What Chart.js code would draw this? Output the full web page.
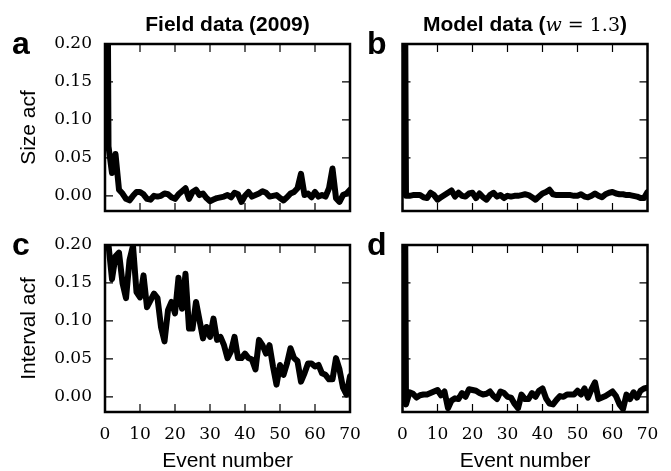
<!DOCTYPE html>
<html><head><meta charset="utf-8">
<script src="https://cdn.jsdelivr.net/npm/chart.js@4.4.0/dist/chart.umd.min.js"></script>
<style>
html,body{margin:0;padding:0;background:#fff;}
#wrap{position:relative;width:671px;height:471px;overflow:hidden;background:#fff;}
canvas{position:absolute;left:0;top:0;}
.lbl{position:absolute;font-family:"Liberation Sans",Arial,sans-serif;color:#000;white-space:nowrap;line-height:1;}
.letter{font-weight:bold;font-size:32px;}
.title{font-weight:bold;font-size:21px;text-align:center;}
.math{font-family:"DejaVu Serif",serif;font-weight:normal;font-size:19px;}
</style></head><body>
<div id="wrap">
<canvas id="ca" width="671" height="471"></canvas>
<canvas id="cb" width="671" height="471"></canvas>
<canvas id="cc" width="671" height="471"></canvas>
<canvas id="cd" width="671" height="471"></canvas>
<div class="lbl letter" style="left:12px;top:27px;">a</div>
<div class="lbl letter" style="left:367px;top:27px;">b</div>
<div class="lbl letter" style="left:12px;top:228px;">c</div>
<div class="lbl letter" style="left:367px;top:228px;">d</div>
<div class="lbl title" style="left:105px;width:245px;top:13px;">Field data (2009)</div>
<div class="lbl title" style="left:402px;width:246px;top:13px;">Model data (<span class="math"><i>w</i> = 1.3</span>)</div>
</div>
<script>
// ---- data ----
const lags = [0,1,2,3,4,5,6,7,8,9,10,11,12,13,14,15,16,17,18,19,20,21,22,23,24,25,26,27,28,29,30,31,32,33,34,35,36,37,38,39,40,41,42,43,44,45,46,47,48,49,50,51,52,53,54,55,56,57,58,59,60,61,62,63,64,65,66,67,68,69,70];
const fieldSizeAcf = [1.0,0.065,0.03,0.055,0.008,0.003,-0.004,-0.006,0.0,0.005,0.005,0.002,-0.004,-0.005,0.0,-0.001,0.0,0.003,0.002,-0.002,-0.004,0.002,0.006,0.010,-0.004,0.005,0.008,0.001,0.003,-0.003,-0.007,-0.005,-0.003,-0.002,-0.001,0.001,-0.002,0.004,0.002,-0.008,0.0,0.005,-0.001,0.001,0.003,0.006,0.004,-0.001,0.0,0.001,-0.003,-0.006,-0.002,0.003,0.005,0.010,0.029,0.001,0.003,-0.002,0.005,-0.001,0.001,-0.001,0.010,0.036,-0.003,-0.008,0.001,0.003,0.008];
const modelSizeAcf = [1.0,0.0,0.0,0.001,0.001,0.001,-0.002,-0.003,0.004,0.001,-0.005,-0.002,0.001,0.004,0.007,-0.001,0.004,0.0,-0.001,0.003,0.004,-0.003,0.003,-0.002,-0.005,0.001,0.004,-0.001,0.001,-0.003,0.0,-0.001,0.0,0.0,0.001,0.002,0.001,-0.002,-0.005,-0.001,0.003,0.005,0.008,0.002,0.001,0.001,0.001,0.001,0.001,0.0,0.0,0.002,-0.001,-0.002,0.0,0.003,0.0,-0.002,0.002,0.004,0.005,0.003,0.002,0.002,0.001,0.001,0.0,-0.001,-0.003,-0.003,0.005];
const fieldIntervalAcf = [1.0,0.20,0.155,0.185,0.190,0.150,0.130,0.180,0.199,0.138,0.131,0.160,0.118,0.127,0.136,0.130,0.092,0.073,0.114,0.125,0.110,0.157,0.116,0.162,0.090,0.090,0.125,0.101,0.077,0.092,0.079,0.103,0.075,0.079,0.068,0.051,0.060,0.079,0.051,0.051,0.057,0.051,0.049,0.036,0.075,0.068,0.057,0.068,0.040,0.016,0.042,0.029,0.044,0.064,0.051,0.047,0.020,0.031,0.044,0.044,0.040,0.042,0.031,0.029,0.023,0.023,0.051,0.036,0.012,0.003,0.027];
const modelIntervalAcf = [1.0,-0.010,0.006,0.004,-0.001,0.002,0.003,0.003,0.005,0.007,0.009,0.002,0.007,-0.015,-0.005,-0.002,-0.003,0.005,0.0,0.010,0.009,0.008,0.005,0.003,0.004,0.007,0.001,-0.003,0.007,0.005,0.0,-0.001,-0.009,-0.015,0.003,-0.003,-0.003,0.005,0.0,0.008,0.011,-0.002,-0.009,-0.010,-0.004,0.001,0.0,0.003,0.003,0.003,0.008,0.003,0.011,-0.001,0.010,0.019,-0.003,-0.001,0.001,0.004,0.007,0.001,-0.010,-0.016,0.003,-0.003,0.006,-0.001,0.008,0.011,0.012];
const xTicks = [0,10,20,30,40,50,60,70];
const xTickLabels = ['0','10','20','30','40','50','60','70'];
const yTicks = [0,0.05,0.10,0.15,0.20];
const yTickLabels = ['0.00','0.05','0.10','0.15','0.20'];
const yMin = -0.02, yMax = 0.20, xMin = 0, xMax = 70;

const framePlugin = {
  id: 'frame',
  afterDatasetsDraw(chart) {
    const {ctx, chartArea: a, scales: {x, y}} = chart;
    ctx.save();
    ctx.strokeStyle = '#000';
    ctx.lineWidth = 1.2;
    ctx.beginPath();
    xTicks.forEach(v => {
      const px = x.getPixelForValue(v);
      ctx.moveTo(px, a.bottom); ctx.lineTo(px, a.bottom - 8);
      ctx.moveTo(px, a.top); ctx.lineTo(px, a.top + 8);
    });
    yTicks.forEach(v => {
      const py = y.getPixelForValue(v);
      ctx.moveTo(a.left, py); ctx.lineTo(a.left + 8, py);
      ctx.moveTo(a.right, py); ctx.lineTo(a.right - 8, py);
    });
    ctx.stroke();
    ctx.lineWidth = 2.5;
    ctx.strokeRect(a.left, a.top, a.right - a.left, a.bottom - a.top);
    ctx.restore();
  }
};

function makeChart(id, values, o) {
  return new Chart(document.getElementById(id), {
    type: 'line',
    data: {
      datasets: [{
        data: lags.map((lag, i) => ({x: lag, y: values[i]})),
        borderColor: '#000', borderWidth: 6, pointRadius: 0, tension: 0,
        fill: false, clip: 0, borderJoinStyle: 'round', borderCapStyle: 'round'
      }]
    },
    options: {
      responsive: false, animation: false, devicePixelRatio: 1,
      layout: {padding: o.pad},
      plugins: {legend: {display: false}, tooltip: {enabled: false}, title: {display: false}},
      scales: {
        x: {
          type: 'linear', min: xMin, max: xMax,
          grid: {display: false, drawTicks: false}, border: {display: false},
          afterBuildTicks: s => { s.ticks = xTicks.map(v => ({value: v})); },
          afterFit: s => { s.height = o.xh; },
          ticks: {display: o.showX, color: '#000', padding: 12, maxRotation: 0, autoSkip: false,
                  font: {family: 'DejaVu Serif', size: 17},
                  callback: (v, i) => xTickLabels[i]},
          title: {display: o.showX, text: 'Event number', color: '#000',
                  font: {family: 'Liberation Sans', size: 21}, padding: {top: 0, bottom: -3}}
        },
        y: {
          type: 'linear', min: yMin, max: yMax,
          grid: {display: false, drawTicks: false}, border: {display: false},
          afterBuildTicks: s => { s.ticks = yTicks.map(v => ({value: v})); },
          afterFit: s => { s.width = o.yw; },
          ticks: {display: o.showY, color: '#000', padding: 13, autoSkip: false,
                  font: {family: 'DejaVu Serif', size: 17},
                  callback: (v, i) => yTickLabels[i]},
          title: {display: !!o.yTitle, text: o.yTitle || '', color: '#000',
                  font: {family: 'Liberation Sans', size: 21}, padding: {top: 11.4, bottom: 0}}
        }
      }
    },
    plugins: [framePlugin]
  });
}

makeChart('ca', fieldSizeAcf, {pad: {left: 5, right: 321, top: 44, bottom: 260}, xh: 0, yw: 100, showX: false, showY: true, yTitle: 'Size acf'});
makeChart('cb', modelSizeAcf, {pad: {left: 402.5, right: 23.5, top: 44, bottom: 260}, xh: 0, yw: 0, showX: false, showY: false});
makeChart('cc', fieldIntervalAcf, {pad: {left: 5, right: 321, top: 245, bottom: 0.6}, xh: 58.4, yw: 100, showX: true, showY: true, yTitle: 'Interval acf'});
makeChart('cd', modelIntervalAcf, {pad: {left: 402.5, right: 23.5, top: 245, bottom: 0.6}, xh: 58.4, yw: 0, showX: true, showY: false});
</script>
</body></html>
